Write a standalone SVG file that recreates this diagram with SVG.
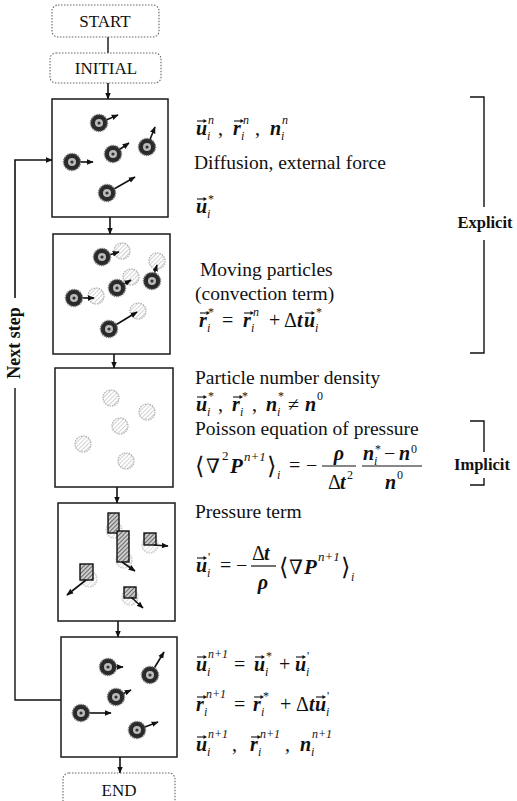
<svg xmlns="http://www.w3.org/2000/svg" xmlns:xlink="http://www.w3.org/1999/xlink" width="517" height="801" viewBox="0 0 517 801">
<style>
.box{fill:#fff;stroke:#1a1a1a;stroke-width:1.5}
.term{fill:#fff;stroke:#666;stroke-width:1.1;stroke-dasharray:1.5 1.5}
.t{font-family:"Liberation Serif",serif;font-size:19.5px;fill:#111}
.tt{font-family:"Liberation Serif",serif;font-size:17px;fill:#111;text-anchor:middle}
.b{font-family:"Liberation Serif",serif;font-size:16.5px;font-weight:bold;fill:#111;text-anchor:middle}
.v{font-family:"Liberation Serif",serif;font-style:italic;font-weight:bold;font-size:20px;fill:#111}
.s{font-family:"Liberation Serif",serif;font-style:italic;font-size:12px;fill:#111}
.su{font-family:"Liberation Serif",serif;font-size:12px;fill:#111}
.o{font-family:"Liberation Serif","DejaVu Serif",serif;font-size:20px;fill:#111}
.d{font-family:"DejaVu Serif",serif;font-size:20px;fill:#111}
.m{text-anchor:middle}
.ln{fill:none;stroke:#111;stroke-width:1.4}
.pa{fill:none;stroke:#111;stroke-width:1.6;marker-end:url(#ah)}
.fb{stroke:#111;stroke-width:1.2}
</style>
<defs>
<marker id="ah" viewBox="0 0 10 10" refX="9" refY="5" markerWidth="7" markerHeight="7" markerUnits="userSpaceOnUse" orient="auto"><path d="M0,1L10,5L0,9z" fill="#111"/></marker>
<pattern id="hl" width="3" height="3" patternUnits="userSpaceOnUse" patternTransform="rotate(45)"><rect width="3" height="3" fill="#fff"/><line x1="0" y1="0" x2="0" y2="3" stroke="#b5b5b5" stroke-width="1.2"/></pattern>
<pattern id="hd" width="3" height="3" patternUnits="userSpaceOnUse" patternTransform="rotate(45)"><rect width="3" height="3" fill="#ccc"/><line x1="0" y1="0" x2="0" y2="3" stroke="#333" stroke-width="1.3"/></pattern>
<g id="pd"><circle r="8.5" fill="#2a2a2a" stroke="#777" stroke-width="1.6" stroke-dasharray="1 1.2"/><circle r="4" fill="#bbb"/><circle r="1.6" fill="#333"/></g>
<g id="pl"><circle r="8" fill="url(#hl)" stroke="#aaa" stroke-width="1.2" stroke-dasharray="1.5 1"/></g>
<g id="vec"><path d="M0 0H8" stroke="#111" stroke-width="1.1" fill="none"/><path d="M6.5 -2L10 0L6.5 2z" fill="#111"/></g>
</defs>

<g id="connectors">
<path class="ln" d="M108,37V53"/>
<path class="pa" d="M108,83V99"/>
<path class="pa" d="M110,217V234"/>
<path class="pa" d="M114,354V368"/>
<path class="pa" d="M117,487V503"/>
<path class="pa" d="M118,621V637"/>
<path class="pa" d="M120,757V773"/>
<path class="ln" d="M61,700H15V388"/>
<path class="pa" d="M15,298V160H52"/>
</g>

<g id="next-step-label"><text class="b" style="font-size:18px" transform="translate(20,343) rotate(-90)">Next step</text></g>

<g id="start"><rect class="term" x="52" y="5" width="107" height="32" rx="6"/><text class="tt" x="105" y="27">START</text></g>
<g id="initial"><rect class="term" x="50" y="53" width="111" height="30" rx="6"/><text class="tt" x="106" y="74">INITIAL</text></g>

<g id="step1">
<rect class="box" x="52" y="99" width="116" height="118"/>
<path class="pa" d="M99,123L118,115"/><use href="#pd" x="99" y="123"/>
<path class="pa" d="M147,147L155,127"/><use href="#pd" x="147" y="147"/>
<path class="pa" d="M113,154L129,143"/><use href="#pd" x="113" y="154"/>
<path class="pa" d="M72,162L93,162"/><use href="#pd" x="72" y="162"/>
<path class="pa" d="M107,193L135,177"/><use href="#pd" x="107" y="193"/>
<use href="#vec" x="197" y="121"/><text class="v" x="196" y="135">u</text><text class="s" x="207" y="140">i</text><text class="s" x="208" y="124">n</text>
<text class="o" x="218" y="135">,</text>
<use href="#vec" x="234" y="121"/><text class="v" x="233" y="135">r</text><text class="s" x="241" y="140">i</text><text class="s" x="243" y="124">n</text>
<text class="o" x="255" y="135">,</text>
<text class="v" x="270" y="135">n</text><text class="s" x="281" y="140">i</text><text class="s" x="282" y="124">n</text>
<text class="t" x="194" y="169">Diffusion, external force</text>
<use href="#vec" x="197" y="199"/><text class="v" x="196" y="213">u</text><text class="s" x="207" y="218">i</text><text class="su" x="208" y="203">*</text>
</g>

<g id="step2">
<rect class="box" x="53" y="234" width="117" height="120"/>
<use href="#pl" x="122" y="251"/><path class="pa" d="M102,257L119,252"/><use href="#pd" x="102" y="257"/>
<use href="#pl" x="157" y="261"/><path class="pa" d="M152,281L157,265"/><use href="#pd" x="152" y="281"/>
<use href="#pl" x="131" y="277"/><path class="pa" d="M117,288L131,280"/><use href="#pd" x="117" y="288"/>
<use href="#pl" x="96" y="296"/><path class="pa" d="M74,298L94,298"/><use href="#pd" x="74" y="298"/>
<use href="#pl" x="138" y="311"/><path class="pa" d="M109,329L137,312"/><use href="#pd" x="109" y="329"/>
<text class="t" x="200" y="276">Moving particles</text>
<text class="t" x="195" y="300">(convection term)</text>
<use href="#vec" x="200" y="313"/><text class="v" x="199" y="327">r</text><text class="s" x="207" y="332">i</text><text class="su" x="208" y="316">*</text>
<text class="o" x="222" y="327">=</text>
<use href="#vec" x="244" y="313"/><text class="v" x="243" y="327">r</text><text class="s" x="251" y="332">i</text><text class="s" x="253" y="316">n</text>
<text class="o" x="269" y="327">+</text>
<text class="o" x="284" y="327">Δ</text><text class="v" x="297" y="327">t</text>
<use href="#vec" x="305" y="313"/><text class="v" x="304" y="327">u</text><text class="s" x="315" y="332">i</text><text class="su" x="316" y="316">*</text>
</g>

<g id="explicit">
<path class="ln" d="M470,97H484V207M484,240V353H470"/>
<text class="b" x="485" y="228">Explicit</text>
</g>

<g id="step3">
<rect class="box" x="55" y="368" width="118" height="119"/>
<use href="#pl" x="111" y="398"/><use href="#pl" x="147" y="412"/><use href="#pl" x="120" y="426"/><use href="#pl" x="83" y="444"/><use href="#pl" x="126" y="461"/>
<text class="t" x="195" y="384">Particle number density</text>
<use href="#vec" x="197" y="397"/><text class="v" x="196" y="411">u</text><text class="s" x="207" y="416">i</text><text class="su" x="208" y="400">*</text>
<text class="o" x="218" y="411">,</text>
<use href="#vec" x="233" y="397"/><text class="v" x="232" y="411">r</text><text class="s" x="240" y="416">i</text><text class="su" x="242" y="400">*</text>
<text class="o" x="252" y="411">,</text>
<text class="v" x="266" y="411">n</text><text class="s" x="277" y="416">i</text><text class="su" x="278" y="400">*</text>
<text class="o" x="288" y="411">≠</text>
<text class="v" x="305" y="411">n</text><text class="su" x="317" y="400">0</text>
<text class="t" x="195" y="435">Poisson equation of pressure</text>
<text class="d" style="font-size:24px" x="195" y="474">⟨</text><text class="d" x="206" y="473">∇</text><text class="su" style="font-size:13px" x="222" y="460">2</text>
<text class="v" style="font-size:21px" x="230" y="473">P</text><text class="s" style="font-size:13px" x="244" y="461">n+1</text>
<text class="d" style="font-size:24px" x="267" y="474">⟩</text><text class="s" x="277" y="479">i</text>
<text class="o" x="289" y="472">=</text><text class="o" x="306" y="472">−</text>
<line class="fb" x1="322" y1="466" x2="356" y2="466"/>
<text class="v m" x="339" y="460">ρ</text>
<text class="o" x="328" y="489">Δ</text><text class="v" x="340" y="489">t</text><text class="su" x="347" y="479">2</text>
<line class="fb" x1="362" y1="466" x2="422" y2="466"/>
<text class="v" x="363" y="460">n</text><text class="s" x="374" y="465">i</text><text class="su" x="375" y="453">*</text>
<text class="o" x="384" y="460">−</text>
<text class="v" x="399" y="460">n</text><text class="su" x="411" y="453">0</text>
<text class="v" x="385" y="489">n</text><text class="su" x="397" y="479">0</text>
</g>

<g id="implicit">
<path class="ln" d="M470,421H484V452M484,478V485H470"/>
<text class="b" x="482" y="470">Implicit</text>
</g>

<g id="step4">
<rect class="box" x="58" y="503" width="117" height="118"/>
<use href="#pl" x="114" y="530" opacity="0.7"/><use href="#pl" x="124" y="560" opacity="0.7"/><use href="#pl" x="150" y="545" opacity="0.7"/><use href="#pl" x="89" y="579" opacity="0.7"/><use href="#pl" x="130" y="597" opacity="0.7"/>
<rect x="108" y="513" width="11" height="20" fill="url(#hd)" stroke="#111" stroke-width="1.4"/>
<rect x="117" y="531" width="12" height="31" fill="url(#hd)" stroke="#111" stroke-width="1.4"/>
<rect x="144" y="533" width="12" height="12" fill="url(#hd)" stroke="#111" stroke-width="1.4"/>
<rect x="80" y="564" width="13" height="16" fill="url(#hd)" stroke="#111" stroke-width="1.4"/>
<rect x="124" y="587" width="12" height="11" fill="url(#hd)" stroke="#111" stroke-width="1.4"/>
<path class="pa" d="M122,562L135,571"/>
<path class="pa" d="M154,545L168,546"/>
<path class="pa" d="M86,580L67,595"/>
<path class="pa" d="M131,597L143,608"/>
<text class="t" x="195" y="518">Pressure term</text>
<use href="#vec" x="197" y="558"/><text class="v" x="196" y="572">u</text><text class="s" x="207" y="577">i</text><text class="su" x="208" y="561">'</text>
<text class="o" x="220" y="572">=</text><text class="o" x="236" y="572">−</text>
<line class="fb" x1="251" y1="566" x2="276" y2="566"/>
<text class="o" x="252" y="560">Δ</text><text class="v" x="264" y="560">t</text>
<text class="v m" x="263" y="589">ρ</text>
<text class="d" style="font-size:24px" x="279" y="575">⟨</text><text class="d" x="289" y="574">∇</text>
<text class="v" style="font-size:21px" x="304" y="574">P</text><text class="s" style="font-size:13px" x="318" y="561">n+1</text>
<text class="d" style="font-size:24px" x="341" y="575">⟩</text><text class="s" x="351" y="581">i</text>
</g>

<g id="step5">
<rect class="box" x="61" y="637" width="116" height="120"/>
<path class="pa" d="M108,667L123,667"/><use href="#pd" x="108" y="667"/>
<path class="pa" d="M150,675L164,652"/><use href="#pd" x="150" y="675"/>
<path class="pa" d="M116,697L131,690"/><use href="#pd" x="116" y="697"/>
<path class="pa" d="M81,713L111,713"/><use href="#pd" x="81" y="713"/>
<path class="pa" d="M137,730L158,722"/><use href="#pd" x="137" y="730"/>
<use href="#vec" x="197" y="657"/><text class="v" x="196" y="671">u</text><text class="s" x="207" y="676">i</text><text class="s" x="208" y="658">n+1</text>
<text class="o" x="234" y="671">=</text>
<use href="#vec" x="255" y="657"/><text class="v" x="254" y="671">u</text><text class="s" x="265" y="676">i</text><text class="su" x="266" y="660">*</text>
<text class="o" x="279" y="671">+</text>
<use href="#vec" x="296" y="657"/><text class="v" x="295" y="671">u</text><text class="s" x="306" y="676">i</text><text class="su" x="307" y="660">'</text>
<use href="#vec" x="197" y="697"/><text class="v" x="196" y="711">r</text><text class="s" x="204" y="716">i</text><text class="s" x="206" y="698">n+1</text>
<text class="o" x="234" y="711">=</text>
<use href="#vec" x="254" y="697"/><text class="v" x="253" y="711">r</text><text class="s" x="261" y="716">i</text><text class="su" x="263" y="700">*</text>
<text class="o" x="280" y="711">+</text>
<text class="o" x="296" y="711">Δ</text><text class="v" x="309" y="711">t</text>
<use href="#vec" x="316" y="697"/><text class="v" x="315" y="711">u</text><text class="s" x="326" y="716">i</text><text class="su" x="327" y="700">'</text>
<use href="#vec" x="197" y="737"/><text class="v" x="196" y="751">u</text><text class="s" x="207" y="756">i</text><text class="s" x="208" y="738">n+1</text>
<text class="o" x="232" y="751">,</text>
<use href="#vec" x="251" y="737"/><text class="v" x="250" y="751">r</text><text class="s" x="258" y="756">i</text><text class="s" x="260" y="738">n+1</text>
<text class="o" x="285" y="751">,</text>
<text class="v" x="300" y="751">n</text><text class="s" x="311" y="756">i</text><text class="s" x="312" y="738">n+1</text>
</g>

<g id="end"><rect class="term" x="63" y="773" width="112" height="40" rx="6"/><text class="tt" x="119" y="796">END</text></g>
</svg>
